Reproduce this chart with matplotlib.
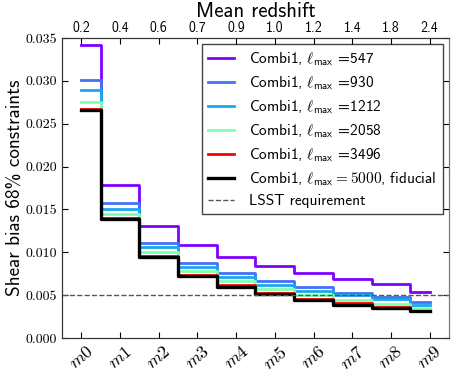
import numpy as np
import matplotlib
matplotlib.use("Agg")
import matplotlib.pyplot as plt

plt.rcParams['mathtext.fontset'] = 'cm'
plt.rcParams['font.family'] = ['cmss10', 'DejaVu Sans']
plt.rcParams['axes.unicode_minus'] = False

bins = ['m0', 'm1', 'm2', 'm3', 'm4', 'm5', 'm6', 'm7', 'm8', 'm9']
redshift_labels = ['0.2', '0.4', '0.6', '0.7', '0.9', '1.0', '1.2', '1.4', '1.8', '2.4']

lmax_547 = [0.0342, 0.0179, 0.0131, 0.01085, 0.0094, 0.0084, 0.0076, 0.0069, 0.0063, 0.0054]
lmax_930 = [0.0301, 0.0157, 0.01105, 0.0088, 0.00755, 0.00665, 0.0059, 0.0053, 0.0048, 0.0042]
lmax_1212 = [0.0289, 0.0151, 0.0106, 0.0083, 0.0071, 0.0062, 0.0055, 0.0050, 0.0045, 0.0038]
lmax_2058 = [0.0275, 0.0145, 0.0100, 0.0078, 0.00665, 0.0057, 0.0050, 0.0044, 0.0040, 0.0035]
lmax_3496 = [0.0267, 0.0140, 0.0096, 0.0074, 0.0062, 0.0053, 0.0046, 0.0041, 0.0036, 0.0032]
lmax_5000 = [0.0266, 0.0139, 0.00945, 0.00727, 0.0060, 0.0051, 0.0044, 0.0039, 0.0035, 0.0031]
lsst_requirement = 0.005

series = [
    (lmax_547, r'Combi1, $\ell_{\mathsf{max}}$ =547', '#8000ff', 2.0),
    (lmax_930, r'Combi1, $\ell_{\mathsf{max}}$ =930', '#4470f4', 2.0),
    (lmax_1212, r'Combi1, $\ell_{\mathsf{max}}$ =1212', '#18a8ee', 2.0),
    (lmax_2058, r'Combi1, $\ell_{\mathsf{max}}$ =2058', '#80ffb0', 2.0),
    (lmax_3496, r'Combi1, $\ell_{\mathsf{max}}$ =3496', '#ff0000', 2.0),
    (lmax_5000, r'Combi1, $\ell_{\mathsf{max}}=5000$, fiducial', '#000000', 2.4),
]

fig = plt.figure(figsize=(4.56, 3.74), dpi=100)
ax = fig.add_axes([62/456, 1 - 338/374, (449-62)/456, (338-38)/374])

x = np.arange(len(bins))
for vals, lab, col, lw in series:
    ax.step(x, vals, where='mid', color=col, lw=lw, label=lab)
ax.axhline(lsst_requirement, color='#555555', ls='--', lw=1.0,
           label='LSST requirement')

ax.set_xlim(-0.5, 9.5)
ax.set_ylim(0, 0.035)
ax.set_xticks(x)
ax.set_xticklabels(['$' + b + '$' for b in bins], rotation=40, ha='center', fontsize=13)
yt = np.arange(0, 0.0351, 0.005)
ax.set_yticks(yt)
ax.set_yticklabels(['%.3f' % v for v in yt], fontsize=10, family='cmr10')
ax.tick_params(direction='in', length=4, right=True, top=False)
ax.set_ylabel('Shear bias 68% constraints', fontsize=13.8, labelpad=1)

ax2 = ax.twiny()
ax2.set_xlim(ax.get_xlim())
ax2.set_xticks(x)
ax2.set_xticklabels(redshift_labels, fontsize=10)
ax2.tick_params(direction='in', length=4, pad=2)
ax2.set_xlabel('Mean redshift', fontsize=15, labelpad=3)

for a in (ax, ax2):
    for s in a.spines.values():
        s.set_color('#333333')
    a.spines['right'].set_color('#777777')

leg = ax.legend(loc='upper right', fontsize=11, handlelength=1.7, handletextpad=1.0,
                labelspacing=0.42, borderaxespad=0.4, fancybox=False, framealpha=1)
leg.get_frame().set_edgecolor('#444444')
leg.get_frame().set_linewidth(1.0)

fig.savefig('out.png', dpi=100)
